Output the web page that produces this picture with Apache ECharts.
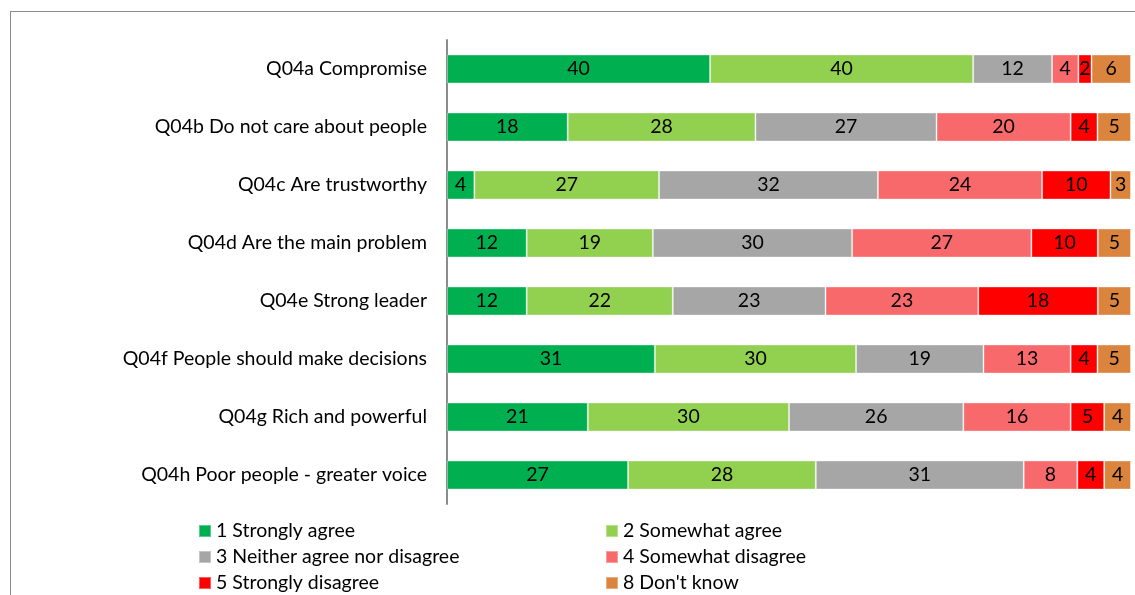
<!DOCTYPE html>
<html>
<head>
<meta charset="utf-8">
<script src="https://cdn.jsdelivr.net/npm/echarts@6/dist/echarts.min.js"></script>
<style>
  html, body { margin: 0; padding: 0; background: #fff; }
  #frame { position: absolute; left: 10px; top: 11px; width: 1200px; height: 700px; border: 1px solid #8c8c8c; box-sizing: border-box; }
  #chart { position: absolute; left: 0; top: 0; width: 1135px; height: 595px; }
</style>
</head>
<body>
<div id="frame"></div>
<div id="chart"></div>
<script>
// Survey items (top to bottom)
const categories = [
  'Q04a Compromise',
  'Q04b Do not care about people',
  'Q04c Are trustworthy',
  'Q04d Are the main problem',
  'Q04e Strong leader',
  'Q04f People should make decisions',
  'Q04g Rich and powerful',
  'Q04h Poor people - greater voice'
];

// Response options
const seriesNames = [
  '1 Strongly agree',
  '2 Somewhat agree',
  '3 Neither agree nor disagree',
  '4 Somewhat disagree',
  '5 Strongly disagree',
  "8 Don't know"
];

// Percentages per response option, one value per item
const stronglyAgree    = [40, 18, 4, 12, 12, 31, 21, 27];
const somewhatAgree    = [40, 28, 27, 19, 22, 30, 30, 28];
const neither          = [12, 27, 32, 30, 23, 19, 26, 31];
const somewhatDisagree = [4, 20, 24, 27, 23, 13, 16, 8];
const stronglyDisagree = [2, 4, 10, 10, 18, 4, 5, 4];
const dontKnow         = [6, 5, 3, 5, 5, 5, 4, 4];

const seriesValues = [stronglyAgree, somewhatAgree, neither, somewhatDisagree, stronglyDisagree, dontKnow];
const colors = ['#00B050', '#92D050', '#A6A6A6', '#F8696B', '#FF0000', '#DB843D'];

// each bar is scaled to a full 100% width
const rowTotals = categories.map((_, i) => seriesValues.reduce((s, arr) => s + arr[i], 0));

const FONT = 'Lato, "Open Sans", sans-serif';
const FS = 19.5;

const series = seriesNames.map((name, k) => ({
  name,
  type: 'bar',
  stack: 'total',
  barWidth: 29,
  itemStyle: { color: colors[k], borderColor: 'rgba(255,255,255,0.35)', borderWidth: 1 },
  label: {
    show: true,
    position: 'inside',
    color: '#000',
    fontFamily: FONT,
    fontSize: FS,
    formatter: p => String(seriesValues[k][p.dataIndex])
  },
  data: seriesValues[k].map((v, i) => v / rowTotals[i] * 100)
}));

const legendSlots = [
  { left: 198, top: 521 }, { left: 605, top: 521 },
  { left: 198, top: 547 }, { left: 605, top: 547 },
  { left: 198, top: 573 }, { left: 605, top: 573 }
];

const legends = seriesNames.map((name, k) => ({
  data: [name],
  left: legendSlots[k].left,
  top: legendSlots[k].top,
  padding: 0,
  itemWidth: 12,
  itemHeight: 12,
  icon: 'rect',
  selectedMode: false,
  textStyle: { fontFamily: FONT, fontSize: FS, color: '#000' }
}));

const chart = echarts.init(document.getElementById('chart'), null, { renderer: 'canvas' });
chart.setOption({
  animation: false,
  color: colors,
  grid: { left: 447, right: 4, top: 40, bottom: 91 },
  legend: legends,
  xAxis: {
    type: 'value',
    min: 0,
    max: 100,
    show: false
  },
  yAxis: {
    type: 'category',
    inverse: true,
    data: categories,
    axisLine: { show: true, lineStyle: { color: '#8c8c8c', width: 2 } },
    axisTick: { show: false },
    axisLabel: { color: '#000', fontFamily: FONT, fontSize: FS, margin: 20 }
  },
  series
});
</script>
</body>
</html>
